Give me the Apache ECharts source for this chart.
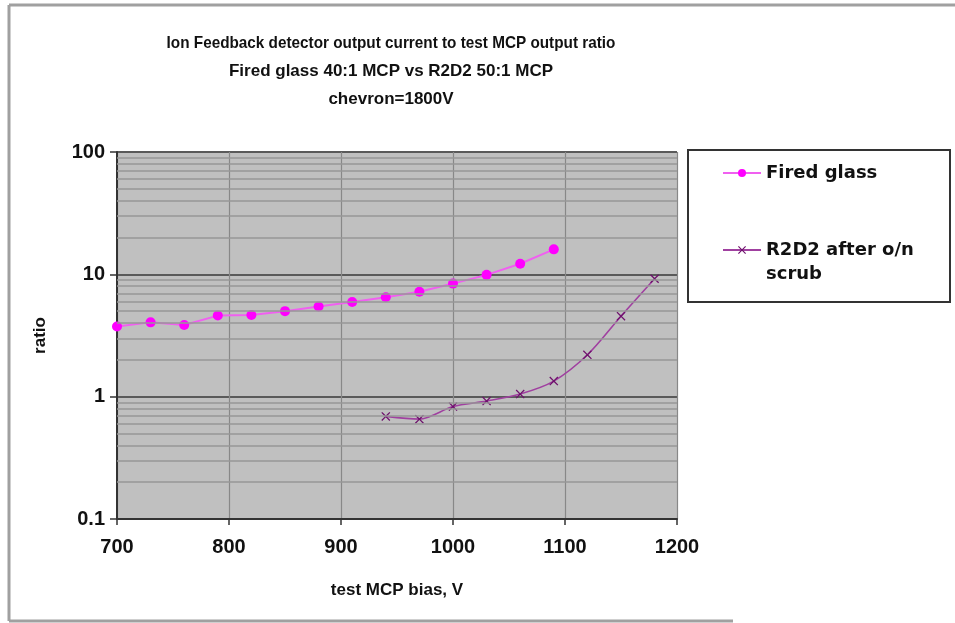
<!DOCTYPE html>
<html>
<head>
<meta charset="utf-8">
<script src="https://cdn.jsdelivr.net/npm/echarts@6/dist/echarts.min.js"></script>
<style>
  html, body { margin: 0; padding: 0; background: #fff; }
  #chart { width: 955px; height: 623px; }
</style>
</head>
<body>
<div id="chart"></div>
<script>
// Bias voltages (V) and measured current ratios
const firedGlassBias = [700, 730, 760, 790, 820, 850, 880, 910, 940, 970, 1000, 1030, 1060, 1090];
const firedGlassRatio = [3.75, 4.05, 3.85, 4.6, 4.65, 5.0, 5.45, 5.95, 6.5, 7.2, 8.4, 9.9, 12.2, 16.0];

const r2d2Bias = [940, 970, 1000, 1030, 1060, 1090, 1120, 1150, 1180];
const r2d2Ratio = [0.69, 0.655, 0.83, 0.92, 1.05, 1.34, 2.2, 4.55, 9.2];

// Axis ranges and labels
const xTicks = [700, 800, 900, 1000, 1100, 1200];
const yDecades = [0.1, 1, 10, 100];
const minorMultipliers = [2, 3, 4, 5, 6, 7, 8, 9];

const seriesNames = ['Fired glass', 'R2D2 after o/n scrub'];
const legendLabels = ['Fired glass', 'R2D2 after o/n\nscrub'];
const titleLines = [
  'Ion Feedback detector output current to test MCP output ratio',
  'Fired glass 40:1 MCP vs R2D2 50:1 MCP',
  'chevron=1800V'
];

const FONT = '"Liberation Sans", Arial, sans-serif';
const LEGEND_FONT = '"DejaVu Sans", "Liberation Sans", Arial, sans-serif';

// minor log gridlines (2..9 within each decade)
const minorLines = [];
yDecades.slice(0, -1).forEach(d => {
  minorMultipliers.forEach(m => minorLines.push({ yAxis: +(d * m).toPrecision(3) }));
});

const pair = (xs, ys) => xs.map((x, i) => [x, ys[i]]);

// three centred title lines; the first one is set a little tighter
const titleGraphics = titleLines.map((t, i) => ({
  type: 'text',
  x: 391,
  y: 43 + i * 28,
  scaleX: i === 0 ? 0.9 : 1,
  silent: true,
  style: {
    text: t,
    textAlign: 'center',
    textVerticalAlign: 'middle',
    verticalAlign: 'middle',
    font: 'bold 17px ' + FONT,
    fill: '#111'
  }
}));

const chart = echarts.init(document.getElementById('chart'), null, { renderer: 'canvas' });

chart.setOption({
  backgroundColor: '#ffffff',
  animation: false,
  graphic: [
    // outer chart frame
    { type: 'line', shape: { x1: 9, y1: 5, x2: 955, y2: 5 }, style: { stroke: '#a0a0a0', lineWidth: 3 }, silent: true },
    { type: 'line', shape: { x1: 9, y1: 5, x2: 9, y2: 621 }, style: { stroke: '#a0a0a0', lineWidth: 3 }, silent: true },
    { type: 'line', shape: { x1: 9, y1: 621, x2: 733, y2: 621 }, style: { stroke: '#a0a0a0', lineWidth: 3 }, silent: true },
    // legend box
    { type: 'rect', shape: { x: 688, y: 150, width: 262, height: 152 }, style: { fill: '#fff', stroke: '#333', lineWidth: 2 }, silent: true, z: -1 }
  ].concat(titleGraphics),
  legend: {
    orient: 'vertical',
    left: 722,
    top: 161,
    padding: 0,
    itemWidth: 38,
    itemHeight: 10,
    itemGap: 29,
    data: seriesNames,
    // leading blank line keeps the marker level with the first text line
    formatter: name => name === seriesNames[1] ? ' \n' + legendLabels[1] : legendLabels[0],
    textStyle: {
      fontFamily: LEGEND_FONT,
      fontWeight: 'bold',
      fontSize: 18,
      lineHeight: 24,
      color: '#111'
    }
  },
  grid: {
    left: 117,
    right: 278,
    top: 152,
    bottom: 104,
    show: true,
    backgroundColor: '#c0c0c0',
    borderWidth: 0
  },
  xAxis: {
    type: 'value',
    min: xTicks[0],
    max: xTicks[xTicks.length - 1],
    interval: 100,
    name: 'test MCP bias, V',
    nameLocation: 'middle',
    nameGap: 63,
    nameTextStyle: { fontFamily: FONT, fontWeight: 'bold', fontSize: 17, color: '#111' },
    axisLine: { show: true, lineStyle: { color: '#333', width: 2 } },
    axisTick: { show: true, length: 6, lineStyle: { color: '#333', width: 1.5 } },
    axisLabel: {
      margin: 18,
      fontFamily: FONT,
      fontWeight: 'bold',
      fontSize: 20,
      color: '#111',
      formatter: v => String(v)
    },
    splitLine: { show: true, lineStyle: { color: '#888', width: 1.2 } }
  },
  yAxis: {
    type: 'log',
    logBase: 10,
    min: yDecades[0],
    max: yDecades[yDecades.length - 1],
    name: 'ratio',
    nameLocation: 'middle',
    nameGap: 68,
    nameRotate: 90,
    nameTextStyle: { fontFamily: FONT, fontWeight: 'bold', fontSize: 17, color: '#111' },
    axisLine: { show: true, lineStyle: { color: '#333', width: 2 } },
    axisTick: { show: true, length: 7, lineStyle: { color: '#333', width: 1.5 } },
    axisLabel: {
      margin: 12,
      fontFamily: FONT,
      fontWeight: 'bold',
      fontSize: 20,
      color: '#111',
      formatter: v => String(+v.toPrecision(3))
    },
    splitLine: { show: true, lineStyle: { color: '#5a5a5a', width: 2 } }
  },
  series: [
    {
      name: '_minor',
      type: 'line',
      data: [],
      z: 1,
      silent: true,
      markLine: {
        silent: true,
        symbol: ['none', 'none'],
        label: { show: false },
        lineStyle: { type: 'solid', color: '#979797', width: 1.5 },
        data: minorLines
      }
    },
    {
      name: seriesNames[0],
      type: 'line',
      data: pair(firedGlassBias, firedGlassRatio),
      symbol: 'circle',
      symbolSize: 10,
      z: 3,
      itemStyle: { color: '#ff00ff' },
      lineStyle: { color: '#f060f0', width: 2 }
    },
    {
      name: seriesNames[1],
      type: 'line',
      data: pair(r2d2Bias, r2d2Ratio),
      smooth: 0.3,
      symbol: 'path://M0,1L1,0L5,4L9,0L10,1L6,5L10,9L9,10L5,6L1,10L0,9L4,5Z',
      symbolSize: 9,
      z: 3,
      itemStyle: { color: '#6e106c' },
      lineStyle: { color: '#a040a0', width: 1.6 }
    }
  ]
});
</script>
</body>
</html>
